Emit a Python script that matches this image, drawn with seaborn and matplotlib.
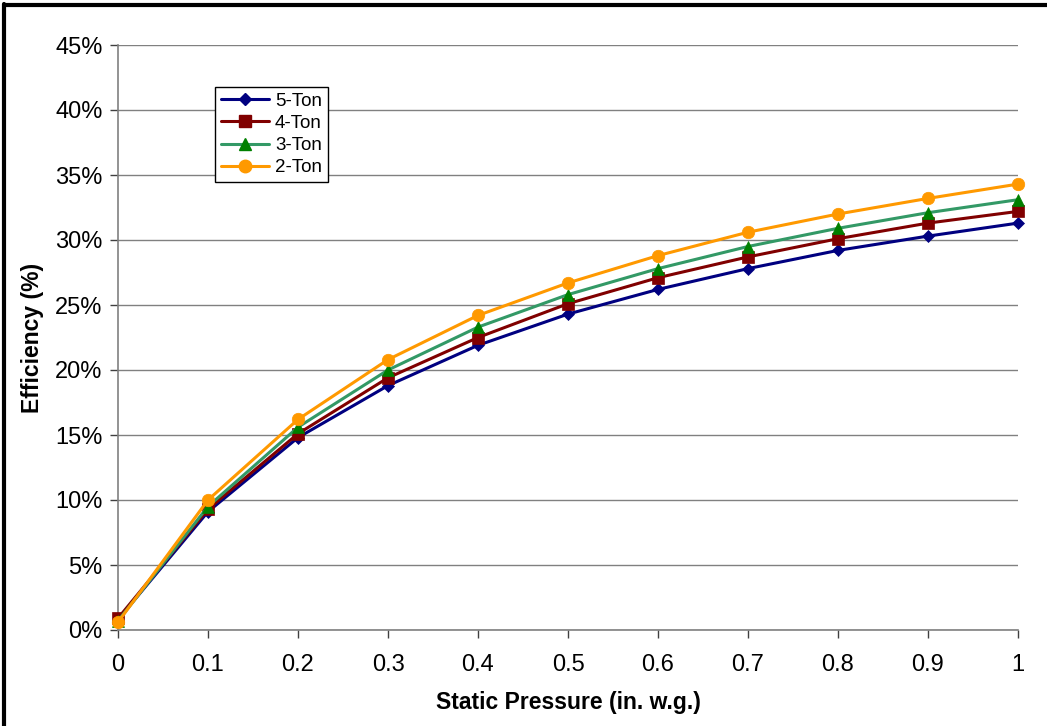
import matplotlib
matplotlib.use("Agg")
import matplotlib.pyplot as plt
import matplotlib.lines as mlines
import seaborn as sns
import pandas as pd
import numpy as np
from matplotlib.ticker import FuncFormatter, MultipleLocator

pressure = [0.0, 0.1, 0.2, 0.3, 0.4, 0.5, 0.6, 0.7, 0.8, 0.9, 1.0]
ton5 = [0.8, 9.1, 14.8, 18.8, 21.9, 24.3, 26.2, 27.8, 29.2, 30.3, 31.3]
ton4 = [0.9, 9.3, 15.1, 19.4, 22.5, 25.1, 27.1, 28.7, 30.1, 31.3, 32.2]
ton3 = [0.7, 9.5, 15.6, 20.0, 23.3, 25.8, 27.8, 29.5, 30.9, 32.1, 33.1]
ton2 = [0.6, 10.0, 16.2, 20.8, 24.2, 26.7, 28.8, 30.6, 32.0, 33.2, 34.3]

series_names = ["5-Ton", "4-Ton", "3-Ton", "2-Ton"]
series_vals = [ton5, ton4, ton3, ton2]
line_colors = ["#000080", "#800000", "#339966", "#FF9900"]
marker_colors = ["#000080", "#800000", "#008000", "#FF9900"]
markers = ["D", "s", "^", "o"]
msizes = [6, 8, 8, 9]

rows = []
for name, vals in zip(series_names, series_vals):
    for p, v in zip(pressure, vals):
        rows.append({"Pressure": p, "Efficiency": v, "Series": name})
df = pd.DataFrame(rows)

sns.set_style("white")
plt.rcParams['font.family'] = ['Liberation Sans', 'DejaVu Sans']
plt.rcParams['text.color'] = 'black'
plt.rcParams['axes.labelcolor'] = 'black'

fig = plt.figure(figsize=(10.47, 7.26), dpi=100)
ax = fig.add_axes([118/1047, 1 - 630/726, 900/1047, 585/726])

handles = []
for name, lc, mc, mk, ms in zip(series_names, line_colors, marker_colors, markers, msizes):
    sub = df[df["Series"] == name]
    sns.lineplot(data=sub, x="Pressure", y="Efficiency", ax=ax, color=lc,
                 linewidth=2.2, marker=mk, markersize=ms, markerfacecolor=mc,
                 markeredgecolor=mc, markeredgewidth=0.5, clip_on=False,
                 legend=False, zorder=3)
    handles.append(mlines.Line2D([], [], color=lc, linewidth=2.2, marker=mk,
                                 markersize=ms, markerfacecolor=mc, markeredgecolor=mc,
                                 label=name))

ax.set_xlim(0, 1)
ax.set_ylim(0, 45)
ax.yaxis.set_major_locator(MultipleLocator(5))
ax.xaxis.set_major_locator(MultipleLocator(0.1))
ax.yaxis.set_major_formatter(FuncFormatter(lambda v, p: f"{int(round(v))}%"))
ax.xaxis.set_major_formatter(FuncFormatter(lambda v, p: "0" if abs(v) < 1e-9 else ("1" if abs(v-1) < 1e-9 else f"{v:.1f}")))

ax.grid(axis="y", color="#808080", linewidth=1.0)
ax.grid(axis="x", visible=False)
ax.set_axisbelow(True)
for s in ["top", "right"]:
    ax.spines[s].set_visible(False)
for s in ["left", "bottom"]:
    ax.spines[s].set_color("#808080")
    ax.spines[s].set_linewidth(1.2)

ax.tick_params(axis="both", which="major", direction="out", length=6, width=1,
               color="#404040", labelsize=17, labelcolor="black", pad=5,
               left=True, bottom=True)
ax.tick_params(axis="x", pad=11)

ax.set_xlabel("Static Pressure (in. w.g.)", fontsize=16.5, fontweight="bold", labelpad=11)
ax.set_ylabel("Efficiency (%)", fontsize=16.5, fontweight="bold", labelpad=8)

leg = ax.legend(handles=handles, loc="upper left", bbox_to_anchor=(97/900, 1 - 42/585),
                fontsize=13.5, frameon=True, fancybox=False, edgecolor="black",
                framealpha=1, borderpad=0.3, labelspacing=0.27, handlelength=2.6,
                handletextpad=0.3, borderaxespad=0)
leg.get_frame().set_linewidth(1.0)

# figure border (top and left)
fig.add_artist(mlines.Line2D([4/1047, 4/1047], [0, 1 - 4/726], transform=fig.transFigure,
                             color="black", linewidth=3))
fig.add_artist(mlines.Line2D([4/1047, 1], [1 - 5/726, 1 - 5/726], transform=fig.transFigure,
                             color="black", linewidth=3))

fig.savefig("out.png", dpi=100)
